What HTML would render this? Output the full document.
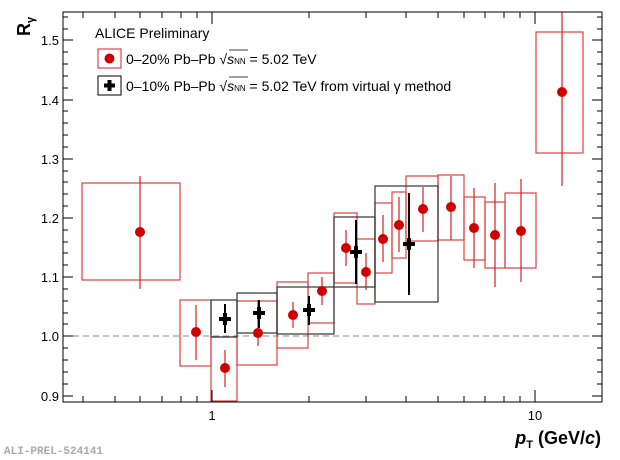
<!DOCTYPE html>
<html><head><meta charset="utf-8"><style>body{margin:0;background:#fff}svg{display:block}text{font-family:"Liberation Sans",sans-serif}</style></head>
<body>
<svg width="620" height="460" viewBox="0 0 620 460" xmlns="http://www.w3.org/2000/svg">
<rect width="620" height="460" fill="#fff"/>
<line x1="63" y1="336" x2="602" y2="336" stroke="#888" stroke-width="1" stroke-dasharray="6,4"/>
<g fill="none" stroke="#d42020" stroke-width="1.2" opacity="0.85">
<rect x="82" y="183" width="98" height="97"/>
<rect x="180" y="300" width="31" height="66"/>
<rect x="211" y="337" width="26" height="64"/>
<rect x="237" y="301" width="40" height="64"/>
<rect x="277" y="282" width="31" height="66"/>
<rect x="308" y="273" width="26" height="50"/>
<rect x="334" y="213" width="23" height="70"/>
<rect x="357" y="239" width="18" height="65"/>
<rect x="375" y="203" width="17" height="70"/>
<rect x="392" y="192" width="14" height="66"/>
<rect x="406" y="176" width="32" height="65"/>
<rect x="438" y="175" width="26" height="65"/>
<rect x="464" y="197" width="21" height="63"/>
<rect x="485" y="202" width="20" height="66"/>
<rect x="505" y="193" width="31" height="75"/>
<rect x="536" y="32" width="47" height="121"/>
</g>
<g fill="none" stroke="#333" stroke-width="1.2">
<rect x="211" y="300" width="26" height="37"/>
<rect x="237" y="293" width="40" height="40"/>
<rect x="277" y="287" width="57" height="47"/>
<rect x="334" y="217" width="41" height="70"/>
<rect x="375" y="186" width="63" height="116"/>
</g>
<g stroke="#d42020" stroke-width="1.2">
<line x1="140" y1="176" x2="140" y2="289"/>
<line x1="196" y1="305" x2="196" y2="360"/>
<line x1="225" y1="350" x2="225" y2="387"/>
<line x1="258" y1="300" x2="258" y2="346"/>
<line x1="293" y1="302" x2="293" y2="328"/>
<line x1="322" y1="277" x2="322" y2="305"/>
<line x1="346" y1="230" x2="346" y2="266"/>
<line x1="366" y1="253" x2="366" y2="290"/>
<line x1="383" y1="215" x2="383" y2="262"/>
<line x1="399" y1="197" x2="399" y2="252"/>
<line x1="423" y1="187" x2="423" y2="232"/>
<line x1="451" y1="176" x2="451" y2="240"/>
<line x1="474" y1="188" x2="474" y2="268"/>
<line x1="495" y1="183" x2="495" y2="287"/>
<line x1="521" y1="179" x2="521" y2="282"/>
<line x1="562" y1="12" x2="562" y2="186"/>
</g>
<g fill="#d00000">
<circle cx="140" cy="232" r="5"/><circle cx="196" cy="332" r="5"/><circle cx="225" cy="368" r="5"/>
<circle cx="258" cy="333" r="5"/><circle cx="293" cy="315" r="5"/><circle cx="322" cy="291" r="5"/>
<circle cx="346" cy="248" r="5"/><circle cx="366" cy="272" r="5"/><circle cx="383" cy="239" r="5"/>
<circle cx="399" cy="225" r="5"/><circle cx="423" cy="209" r="5"/><circle cx="451" cy="207" r="5"/>
<circle cx="474" cy="228" r="5"/><circle cx="495" cy="235" r="5"/><circle cx="521" cy="231" r="5"/>
<circle cx="562" cy="92" r="5"/>
</g>
<g stroke="#000">
<g stroke-width="2"><line x1="225" y1="304" x2="225" y2="333"/><line x1="259" y1="300" x2="259" y2="328"/><line x1="309" y1="296" x2="309" y2="325"/><line x1="356" y1="220" x2="356" y2="284"/><line x1="409" y1="193" x2="409" y2="295"/></g>
<g stroke-width="4"><line x1="219" y1="319" x2="231" y2="319"/><line x1="225" y1="313" x2="225" y2="325"/>
<line x1="253" y1="313" x2="265" y2="313"/><line x1="259" y1="307" x2="259" y2="319"/>
<line x1="303" y1="310" x2="315" y2="310"/><line x1="309" y1="304" x2="309" y2="316"/>
<line x1="350" y1="252" x2="362" y2="252"/><line x1="356" y1="246" x2="356" y2="258"/>
<line x1="403" y1="244" x2="415" y2="244"/><line x1="409" y1="238" x2="409" y2="250"/></g>
</g>
<rect x="63" y="12" width="539" height="390" fill="none" stroke="#000" stroke-width="1"/>
<g stroke="#000" stroke-width="1">
<line x1="212" y1="402" x2="212" y2="390"/><line x1="535" y1="402" x2="535" y2="390"/>
<line x1="212" y1="12" x2="212" y2="24"/><line x1="535" y1="12" x2="535" y2="24"/>
<g id="mx">
<line x1="83" y1="402" x2="83" y2="396"/><line x1="115" y1="402" x2="115" y2="396"/><line x1="140" y1="402" x2="140" y2="396"/><line x1="162" y1="402" x2="162" y2="396"/><line x1="181" y1="402" x2="181" y2="396"/><line x1="197" y1="402" x2="197" y2="396"/>
<line x1="309" y1="402" x2="309" y2="396"/><line x1="366" y1="402" x2="366" y2="396"/><line x1="406" y1="402" x2="406" y2="396"/><line x1="438" y1="402" x2="438" y2="396"/><line x1="464" y1="402" x2="464" y2="396"/><line x1="485" y1="402" x2="485" y2="396"/><line x1="504" y1="402" x2="504" y2="396"/><line x1="520" y1="402" x2="520" y2="396"/>
</g>
<use href="#mx" transform="translate(0,414) scale(1,-1)"/>
<g id="yt">
<line x1="63" y1="396" x2="73" y2="396"/><line x1="63" y1="336" x2="73" y2="336"/><line x1="63" y1="277" x2="73" y2="277"/><line x1="63" y1="218" x2="73" y2="218"/><line x1="63" y1="159" x2="73" y2="159"/><line x1="63" y1="100" x2="73" y2="100"/><line x1="63" y1="40" x2="73" y2="40"/>
<line x1="63" y1="384" x2="68" y2="384"/><line x1="63" y1="372" x2="68" y2="372"/><line x1="63" y1="360" x2="68" y2="360"/><line x1="63" y1="348" x2="68" y2="348"/>
<line x1="63" y1="324" x2="68" y2="324"/><line x1="63" y1="313" x2="68" y2="313"/><line x1="63" y1="301" x2="68" y2="301"/><line x1="63" y1="289" x2="68" y2="289"/>
<line x1="63" y1="265" x2="68" y2="265"/><line x1="63" y1="253" x2="68" y2="253"/><line x1="63" y1="242" x2="68" y2="242"/><line x1="63" y1="230" x2="68" y2="230"/>
<line x1="63" y1="206" x2="68" y2="206"/><line x1="63" y1="194" x2="68" y2="194"/><line x1="63" y1="182" x2="68" y2="182"/><line x1="63" y1="171" x2="68" y2="171"/>
<line x1="63" y1="147" x2="68" y2="147"/><line x1="63" y1="135" x2="68" y2="135"/><line x1="63" y1="123" x2="68" y2="123"/><line x1="63" y1="111" x2="68" y2="111"/>
<line x1="63" y1="88" x2="68" y2="88"/><line x1="63" y1="76" x2="68" y2="76"/><line x1="63" y1="64" x2="68" y2="64"/><line x1="63" y1="52" x2="68" y2="52"/>
<line x1="63" y1="29" x2="68" y2="29"/><line x1="63" y1="17" x2="68" y2="17"/>
</g>
<use href="#yt" transform="translate(665,0) scale(-1,1)"/>
</g>
<g font-size="13" text-anchor="end" fill="#000">
<text x="59" y="401">0.9</text><text x="59" y="341">1.0</text><text x="59" y="282">1.1</text><text x="59" y="223">1.2</text><text x="59" y="164">1.3</text><text x="59" y="105">1.4</text><text x="59" y="45">1.5</text>
</g>
<text x="212" y="420" font-size="13" text-anchor="middle">1</text>
<text x="535" y="420" font-size="13" text-anchor="middle">10</text>
<text x="601" y="444" font-size="18" font-weight="bold" text-anchor="end"><tspan font-style="italic">p</tspan><tspan font-size="11" dy="4">T</tspan><tspan dy="-4"> (GeV/</tspan><tspan font-style="italic">c</tspan>)</text>
<text transform="translate(30,36) rotate(-90)" font-size="18" font-weight="bold">R<tspan font-size="11" dy="4">γ</tspan></text>
<text x="4" y="454" style="font-family:'Liberation Mono',monospace" font-size="11" font-weight="bold" fill="#aaa">ALI-PREL-524141</text>
<text x="95" y="38" font-size="14">ALICE Preliminary</text>
<rect x="98" y="49" width="23" height="19" fill="none" stroke="#d42020"/>
<circle cx="109.5" cy="58.5" r="5" fill="#d00000"/>
<text x="126" y="64" font-size="14">0–20% Pb–Pb √<tspan font-style="italic">s</tspan><tspan font-size="8">NN</tspan> = 5.02 TeV</text>
<line x1="229" y1="50" x2="248" y2="50" stroke="#000" stroke-width="0.8"/>
<rect x="98" y="76" width="23" height="19" fill="none" stroke="#000"/>
<g stroke="#000" stroke-width="4"><line x1="104" y1="85.5" x2="115" y2="85.5"/><line x1="109.5" y1="80" x2="109.5" y2="91"/></g>
<text x="126" y="91" font-size="14">0–10% Pb–Pb √<tspan font-style="italic">s</tspan><tspan font-size="8">NN</tspan> = 5.02 TeV from virtual γ method</text>
<line x1="229" y1="77" x2="248" y2="77" stroke="#000" stroke-width="0.8"/>
</svg>
</body></html>
